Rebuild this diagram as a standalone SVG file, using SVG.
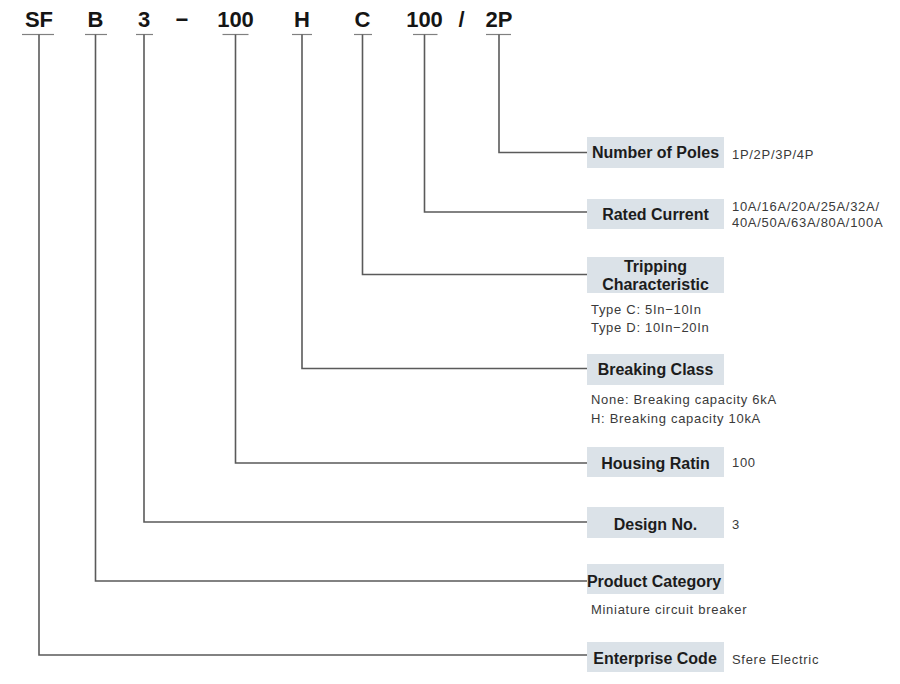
<svg xmlns="http://www.w3.org/2000/svg" width="900" height="684" viewBox="0 0 900 684">
<style>
.code{font-family:"Liberation Sans",Arial,sans-serif;font-weight:bold;font-size:22px;fill:#151515;text-anchor:middle}
.bar{stroke:#808080;stroke-width:1.2;fill:none}
.box{fill:#dbe2e8}
.lbl{font-family:"Liberation Sans",Arial,sans-serif;font-weight:bold;font-size:16px;fill:#1c1c1c;text-anchor:middle}
.val{font-family:"Liberation Sans",Arial,sans-serif;font-size:13px;fill:#3a3a3a;letter-spacing:0.7px}
.con{stroke:#5a5a5a;stroke-width:1.6;fill:none}
</style>
<rect width="900" height="684" fill="#ffffff"/>
<g id="codes">
<g id="code-sf"><text class="code" x="39" y="27">SF</text><line class="bar" x1="22" y1="34.5" x2="54" y2="34.5"/></g>
<g id="code-b"><text class="code" x="95.5" y="27">B</text><line class="bar" x1="85" y1="34.5" x2="107" y2="34.5"/></g>
<g id="code-3"><text class="code" x="144" y="27">3</text><line class="bar" x1="136" y1="34.5" x2="153" y2="34.5"/></g>
<g id="code-dash"><text class="code" x="182" y="27">−</text></g>
<g id="code-100a"><text class="code" x="235.5" y="27">100</text><line class="bar" x1="222.5" y1="34.5" x2="248.5" y2="34.5"/></g>
<g id="code-h"><text class="code" x="302" y="27">H</text><line class="bar" x1="292" y1="34.5" x2="312" y2="34.5"/></g>
<g id="code-c"><text class="code" x="362.5" y="27">C</text><line class="bar" x1="354" y1="34.5" x2="372" y2="34.5"/></g>
<g id="code-100b"><text class="code" x="424.5" y="27">100</text><line class="bar" x1="413" y1="34.5" x2="437.5" y2="34.5"/></g>
<g id="code-slash"><text class="code" x="461.5" y="27">/</text></g>
<g id="code-2p"><text class="code" x="499" y="27">2P</text><line class="bar" x1="486" y1="34.5" x2="511" y2="34.5"/></g>
</g>
<g id="connectors">
<path class="con" d="M499 34.5V152.5H587"/>
<path class="con" d="M424.5 34.5V212H587"/>
<path class="con" d="M362.5 34.5V274.5H587"/>
<path class="con" d="M302 34.5V368.5H587"/>
<path class="con" d="M235.5 34.5V463H587"/>
<path class="con" d="M144 34.5V522H587"/>
<path class="con" d="M95.5 34.5V581H587"/>
<path class="con" d="M39 34.5V655H587"/>
</g>
<g id="poles">
<rect class="box" x="587" y="137" width="137" height="31"/>
<text class="lbl" x="655.5" y="158">Number of Poles</text>
<text class="val" x="732" y="158.5">1P/2P/3P/4P</text>
</g>
<g id="current">
<rect class="box" x="587" y="199" width="137" height="30"/>
<text class="lbl" x="655.5" y="219.5">Rated Current</text>
<text class="val" x="732" y="211">10A/16A/20A/25A/32A/</text>
<text class="val" x="732" y="227">40A/50A/63A/80A/100A</text>
</g>
<g id="tripping">
<rect class="box" x="587" y="257" width="137" height="36"/>
<text class="lbl" x="655.5" y="272">Tripping</text>
<text class="lbl" x="655.5" y="290">Characteristic</text>
<text class="val" x="591" y="313.5">Type C: 5In−10In</text>
<text class="val" x="591" y="331.5">Type D: 10In−20In</text>
</g>
<g id="breaking">
<rect class="box" x="587" y="354" width="137" height="31"/>
<text class="lbl" x="655.5" y="375">Breaking Class</text>
<text class="val" x="591" y="404">None: Breaking capacity 6kA</text>
<text class="val" x="591" y="422.5">H: Breaking capacity 10kA</text>
</g>
<g id="housing">
<rect class="box" x="587" y="447" width="137" height="30"/>
<text class="lbl" x="655.5" y="468.5">Housing Ratin</text>
<text class="val" x="732" y="467">100</text>
</g>
<g id="design">
<rect class="box" x="587" y="507" width="137" height="31"/>
<text class="lbl" x="655.5" y="530">Design No.</text>
<text class="val" x="732" y="529">3</text>
</g>
<g id="category">
<rect class="box" x="587" y="564" width="137" height="30"/>
<text class="lbl" x="654" y="586.5">Product Category</text>
<text class="val" x="591" y="614">Miniature circuit breaker</text>
</g>
<g id="enterprise">
<rect class="box" x="587" y="642" width="137" height="30"/>
<text class="lbl" x="655" y="663.5">Enterprise Code</text>
<text class="val" x="732" y="663.5">Sfere Electric</text>
</g>
</svg>
